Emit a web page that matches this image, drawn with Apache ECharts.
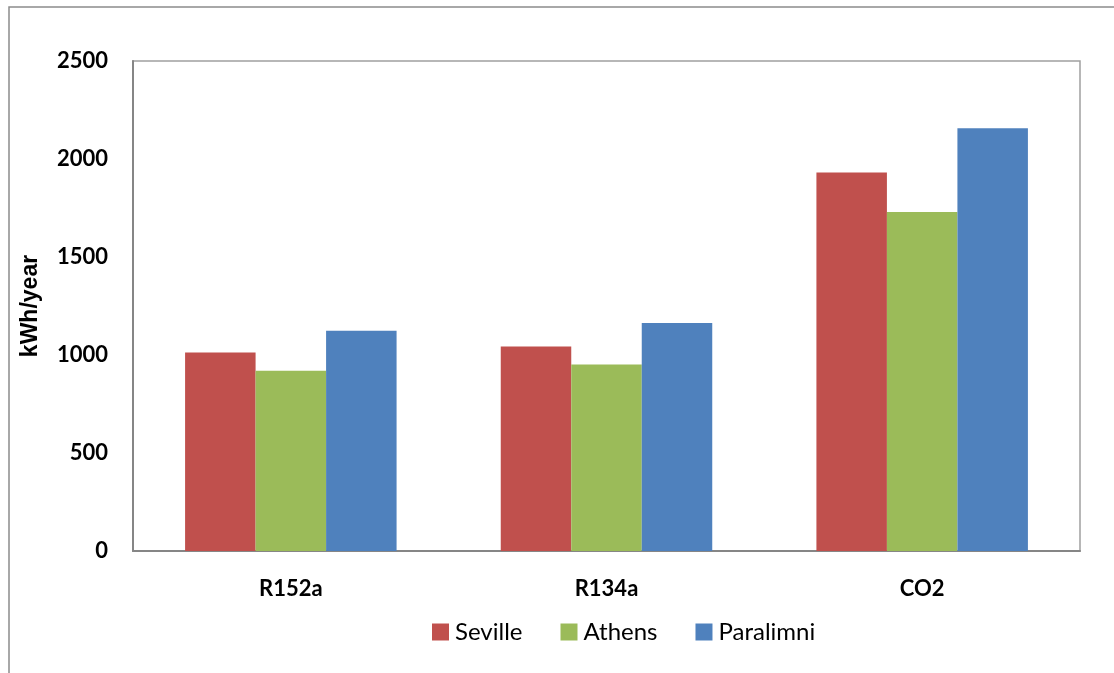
<!DOCTYPE html>
<html><head><meta charset="utf-8">
<script src="https://cdn.jsdelivr.net/npm/echarts@6/dist/echarts.min.js"></script>
<style>html,body{margin:0;padding:0;background:#fff}#c{width:1114px;height:673px}</style>
</head><body><div id="c"></div>
<script>
const categories = ['R152a', 'R134a', 'CO2'];
const seville = [1013, 1044, 1931];
const athens = [920, 951, 1729];
const paralimni = [1124, 1163, 2157];
const yTicks = [0, 500, 1000, 1500, 2000, 2500];

const chart = echarts.init(document.getElementById('c'));
const font = 'Lato, "Open Sans", sans-serif';
chart.setOption({
  animation: false,
  backgroundColor: '#fff',
  graphic: [{
    type: 'rect', shape: {x: 9, y: 7, width: 1200, height: 800},
    style: {fill: 'none', stroke: '#8c8c8c', lineWidth: 1.5}, silent: true
  }],
  grid: {left: 133, right: 34, top: 61, bottom: 122, show: true, borderColor: '#a0a0a0', borderWidth: 1.5, backgroundColor: '#fff'},
  legend: {
    top: 615, left: 427, itemWidth: 17, itemHeight: 17, itemGap: 38,
    icon: 'rect',
    textStyle: {fontFamily: font, fontSize: 24, color: '#000', padding: [0, 0, 0, 1]},
    data: ['Seville', 'Athens', 'Paralimni']
  },
  xAxis: {
    type: 'category', data: categories,
    axisLine: {lineStyle: {color: '#868686', width: 2}},
    axisTick: {show: false},
    axisLabel: {fontFamily: font, fontWeight: 'bold', fontSize: 22, color: '#000', margin: 27}
  },
  yAxis: {
    type: 'value', min: yTicks[0], max: yTicks[yTicks.length - 1], interval: 500,
    name: 'kWh/year', nameLocation: 'middle', nameGap: 91,
    nameTextStyle: {fontFamily: '"Liberation Sans", Arial, sans-serif', fontWeight: 'bold', fontSize: 23, color: '#000'},
    axisLine: {show: true, lineStyle: {color: '#868686', width: 2}},
    axisTick: {show: false},
    splitLine: {show: false},
    axisLabel: {fontFamily: font, fontWeight: 'bold', fontSize: 22, color: '#000', margin: 25, formatter: v => String(v)}
  },
  series: [
    {name: 'Seville', type: 'bar', data: seville, itemStyle: {color: '#C0504D'}, barGap: '0%', barCategoryGap: '33%'},
    {name: 'Athens', type: 'bar', data: athens, itemStyle: {color: '#9BBB59'}},
    {name: 'Paralimni', type: 'bar', data: paralimni, itemStyle: {color: '#4F81BD'}}
  ]
});
</script></body></html>
